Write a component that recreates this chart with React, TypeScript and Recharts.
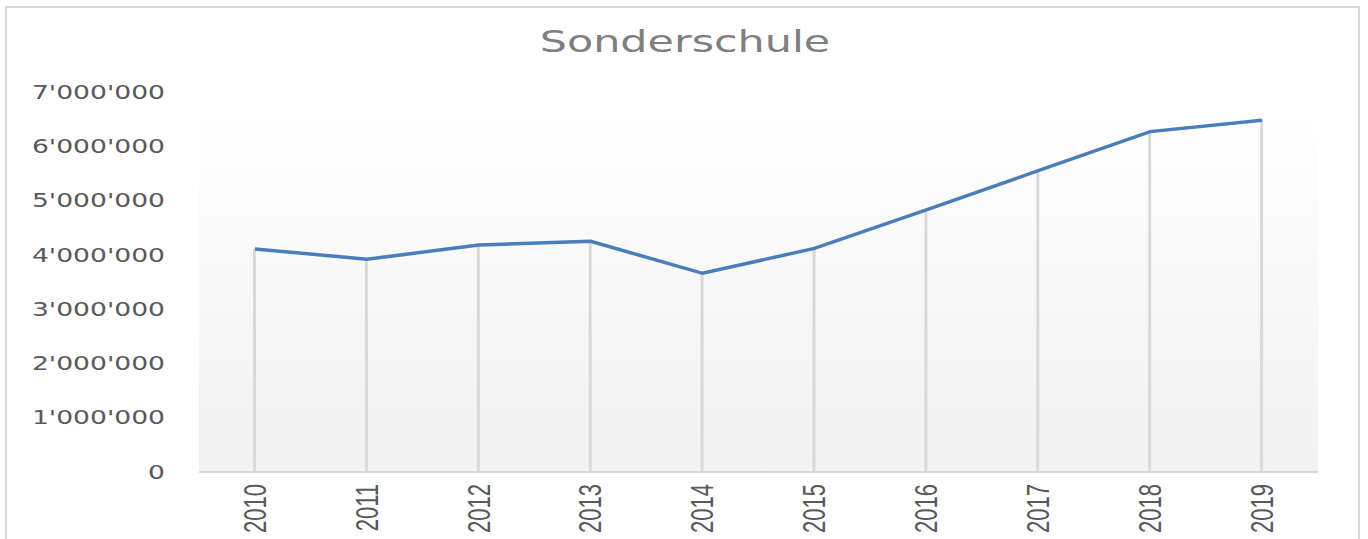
import React from "react";
import {
  ComposedChart,
  Line,
  Bar,
  XAxis,
  YAxis,
  CartesianGrid,
} from "recharts";

const years = ["2010", "2011", "2012", "2013", "2014", "2015", "2016", "2017", "2018", "2019"];
const costs = [4110000, 3920000, 4180000, 4250000, 3660000, 4120000, 4830000, 5550000, 6270000, 6480000];
const yTicks = [0, 1000000, 2000000, 3000000, 4000000, 5000000, 6000000, 7000000];

const data = years.map((year, i) => ({ year, value: costs[i] }));

// swiss style thousands separator
const fmt = (v: number) => String(v).replace(/\B(?=(\d{3})+(?!\d))/g, "'");

const YTick = (props: any) => {
  const { x, y, payload } = props;
  return (
    <g transform={`translate(${x},${y}) scale(1.4,1)`}>
      <text
        x={0}
        y={0}
        dy="0.35em"
        textAnchor="end"
        fill="#595959"
        fontSize={19}
        fontFamily="DejaVu Sans"
      >
        {fmt(payload.value)}
      </text>
    </g>
  );
};

const XTick = (props: any) => {
  const { x, y, payload } = props;
  return (
    <g transform={`translate(${x},${y}) scale(1.4,1) rotate(-90)`}>
      <text
        x={0}
        y={0}
        dy="0.35em"
        textAnchor="end"
        fill="#595959"
        fontSize={22}
        fontFamily="'Liberation Sans Narrow', 'Arial Narrow', 'Liberation Sans'"
      >
        {payload.value}
      </text>
    </g>
  );
};

export default function App() {
  return (
    <div style={{ position: "absolute", left: 0, top: 0, width: 1368, height: 539, background: "#fff", overflow: "hidden" }}>
      {/* chart frame */}
      <div
        style={{
          position: "absolute",
          left: 5,
          top: 6,
          width: 1355,
          height: 560,
          border: "2px solid #d9d9d9",
          boxSizing: "border-box",
        }}
      />
      {/* Title */}
      <div
        style={{
          position: "absolute",
          left: 0,
          top: 24,
          width: 1370,
          textAlign: "center",
          fontFamily: "DejaVu Sans",
          fontSize: 30,
          color: "#7f7f7f",
          transform: "scaleX(1.43)",
          lineHeight: "36px",
        }}
      >
        Sonderschule
      </div>

      <div style={{ position: "absolute", left: 0, top: 0 }}>
        <ComposedChart
          width={1368}
          height={539}
          data={data}
          margin={{ top: 92, right: 50, left: 0, bottom: 0 }}
        >
          <defs>
            <linearGradient id="plotBg" x1="0" y1="0" x2="0" y2="1">
              <stop offset="0%" stopColor="#ffffff" />
              <stop offset="100%" stopColor="#f2f2f2" />
            </linearGradient>
          </defs>
          <CartesianGrid horizontal={false} vertical={false} fill="url(#plotBg)" stroke="none" />
          <XAxis
            dataKey="year"
            height={67}
            axisLine={{ stroke: "#d9d9d9", strokeWidth: 2 }}
            tickLine={false}
            tickSize={0}
            tickMargin={12}
            tick={<XTick />}
            interval={0}
          />
          <YAxis
            width={199}
            domain={[0, 7000000]}
            ticks={yTicks}
            axisLine={false}
            tickLine={false}
            tickSize={6}
            tickMargin={28}
            tick={<YTick />}
          />
          {/* drop lines */}
          <Bar dataKey="value" barSize={3} fill="#d9d9d9" isAnimationActive={false} />
          <Line
            type="linear"
            dataKey="value"
            stroke="#4a7ebb"
            strokeWidth={3.5}
            dot={false}
            activeDot={false}
            isAnimationActive={false}
          />
        </ComposedChart>
      </div>
    </div>
  );
}
